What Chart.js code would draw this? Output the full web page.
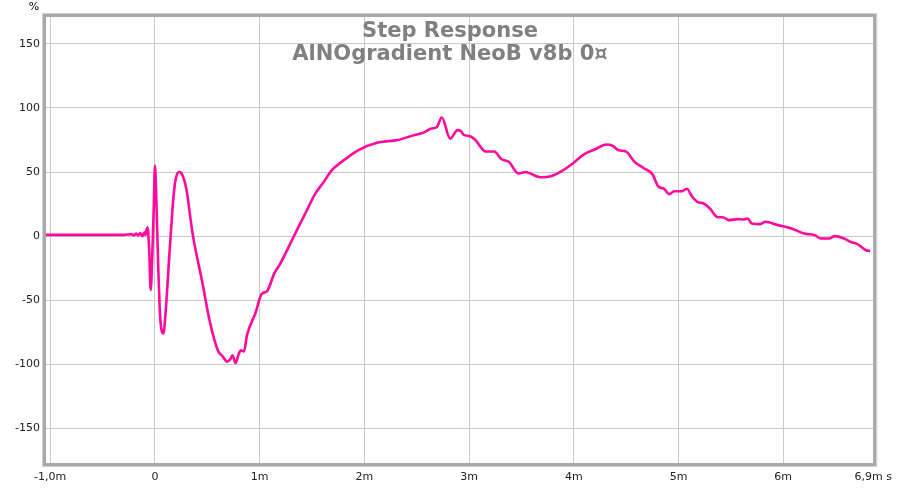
<!DOCTYPE html>
<html>
<head>
<meta charset="utf-8">
<script src="https://cdn.jsdelivr.net/npm/chart.js@4"></script>
<style>
html,body{margin:0;padding:0;background:#fff;}
#wrap{width:900px;height:491px;position:relative;}
</style>
</head>
<body>
<div id="wrap"><canvas id="c" width="900" height="491"></canvas></div>
<script>
const titleLines = ["Step Response", "AlNOgradient NeoB v8b 0\u00a4"];
const yUnit = "%";
const xTicks = [-1, 0, 1, 2, 3, 4, 5, 6, 6.86];
const xTickLabels = ["-1,0m", "0", "1m", "2m", "3m", "4m", "5m", "6m", "6,9m s"];
const yTicks = [-150, -100, -50, 0, 50, 100, 150];

// time in ms
const timeMs = [
 -1.04, -0.6, -0.3, -0.22, -0.2, -0.18, -0.16, -0.14, -0.12, -0.1, -0.09, -0.08, -0.07, -0.055, -0.04,
 -0.025, -0.01, 0.0, 0.015, 0.03, 0.045, 0.06, 0.08, 0.1, 0.12, 0.14, 0.16, 0.18, 0.2, 0.23, 0.26, 0.3,
 0.36, 0.455, 0.52, 0.6, 0.65, 0.69, 0.72, 0.74, 0.77, 0.8, 0.82, 0.85, 0.88, 0.96, 1.02, 1.07,
 1.14, 1.2, 1.28, 1.37, 1.45, 1.53, 1.61, 1.69, 1.8, 1.94, 2.13, 2.32, 2.48, 2.56, 2.64, 2.69,
 2.74, 2.82, 2.89, 2.92, 2.95, 3.01, 3.06, 3.16, 3.24, 3.31, 3.38, 3.47, 3.54, 3.58, 3.68, 3.79,
 3.9, 3.99, 4.1, 4.21, 4.31, 4.37, 4.43, 4.5, 4.58, 4.67, 4.75, 4.81, 4.86, 4.91, 4.96, 5.03, 5.08,
 5.13, 5.18, 5.24, 5.3, 5.37, 5.43, 5.48, 5.57, 5.62, 5.66, 5.7, 5.78, 5.83, 5.95, 6.08, 6.2, 6.3,
 6.36, 6.44, 6.49, 6.58, 6.64, 6.71, 6.79, 6.83
];
// step response in %
const stepPct = [
 1, 1, 1, 1.5, 0.5, 2, 0.5, 2.5, 0, 3, 1, 5, 7, -10, -42,
 -15, 25, 55, 25, -20, -55, -72, -76, -62, -38, -12, 12, 33, 45, 50, 48, 37,
 2, -37, -65, -89, -94, -98, -96, -93, -99, -92, -89, -90, -77, -60, -45, -43,
 -29, -21, -8, 7, 20, 33, 42, 51.5, 59, 67, 73, 75, 79, 80.6, 84, 85,
 92.6, 76, 82.7, 82, 79, 78, 75, 66, 66, 60, 58, 49, 50, 49, 46, 47,
 51.5, 56.7, 64, 68, 71.5, 70.5, 67, 66, 58, 53, 48.4, 38.5, 37, 32.8, 35, 35, 37,
 30.7, 26.8, 25.5, 21.6, 15, 14.6, 12.5, 13.3, 13, 13.8, 9.9, 9.4, 11.2, 8.6, 6, 2, 0.8,
 -1.8, -1.8, 0, -1.8, -4.4, -6.2, -11, -11.5
];

const points = timeMs.map((t, i) => ({x: t, y: stepPct[i]}));
const FONT = "'DejaVu Sans', Verdana, sans-serif";

const decor = {
  id: 'decor',
  beforeDatasetsDraw(chart) {
    const {ctx} = chart;
    ctx.save();
    ctx.fillStyle = '#808080';
    ctx.font = 'bold 21px ' + FONT;
    ctx.textAlign = 'center';
    ctx.textBaseline = 'alphabetic';
    ctx.fillText(titleLines[0], 450, 37);
    ctx.fillText(titleLines[1], 450, 60);
    ctx.restore();
  },
  afterDraw(chart) {
    const {ctx, chartArea: a} = chart;
    ctx.save();
    ctx.strokeStyle = '#d4d4d4';
    ctx.lineWidth = 1;
    ctx.strokeRect(a.left - 3.5, a.top - 3.5, a.right - a.left + 7, a.bottom - a.top + 7);
    ctx.strokeStyle = '#a8a8a8';
    ctx.lineWidth = 3;
    ctx.strokeRect(a.left - 1.5, a.top - 1.5, a.right - a.left + 3, a.bottom - a.top + 3);
    ctx.fillStyle = '#000';
    ctx.font = '11px ' + FONT;
    ctx.textAlign = 'center';
    ctx.textBaseline = 'alphabetic';
    ctx.fillText(yUnit, 34, 10);
    ctx.restore();
  }
};

new Chart(document.getElementById('c'), {
  type: 'line',
  data: {
    datasets: [{
      data: points,
      borderColor: '#ff0a9c',
      borderWidth: 2.6,
      pointRadius: 0,
      fill: false,
      cubicInterpolationMode: 'monotone',
      clip: 2
    }]
  },
  options: {
    responsive: false,
    animation: false,
    devicePixelRatio: 1,
    layout: {padding: {top: 17, right: 22, left: 0, bottom: 0}},
    plugins: {legend: {display: false}, tooltip: {enabled: false}, title: {display: false}},
    scales: {
      x: {
        type: 'linear',
        min: -1.04,
        max: 6.86,
        afterBuildTicks(s) { s.ticks = xTicks.map(v => ({value: v})); },
        afterFit(s) { s.height = 28; },
        border: {display: false},
        grid: {color: '#c8c8c8', lineWidth: 1, drawTicks: false},
        ticks: {
          autoSkip: false, maxRotation: 0, padding: 8, color: '#222',
          font: {family: FONT, size: 11},
          callback(v) { const i = xTicks.indexOf(v); return i >= 0 ? xTickLabels[i] : ''; }
        }
      },
      y: {
        min: -177,
        max: 171,
        afterBuildTicks(s) { s.ticks = yTicks.map(v => ({value: v})); },
        afterFit(s) { s.width = 46; },
        border: {display: false},
        grid: {color: '#c8c8c8', lineWidth: 1, drawTicks: false},
        ticks: {padding: 6, color: '#222', font: {family: FONT, size: 11}}
      }
    }
  },
  plugins: [decor]
});
</script>
</body>
</html>
